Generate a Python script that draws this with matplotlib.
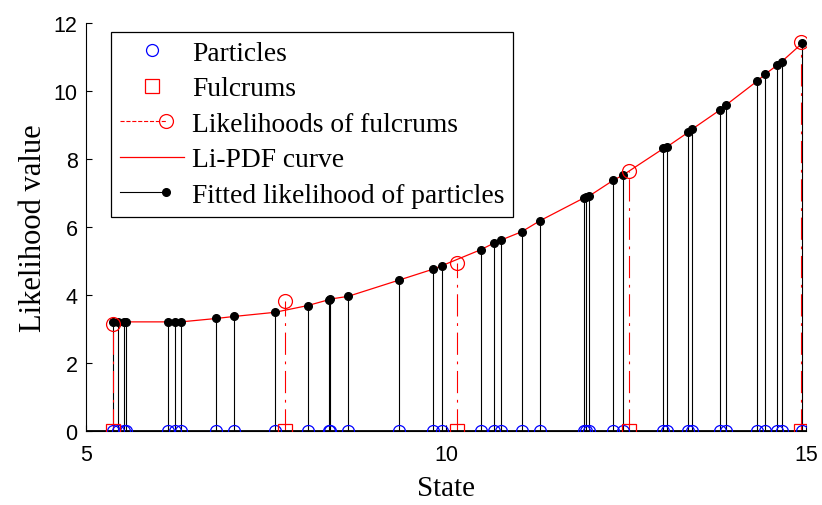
import matplotlib
matplotlib.use("Agg")
import matplotlib.pyplot as plt
from matplotlib.lines import Line2D
from matplotlib.legend_handler import HandlerBase

# particle states and the likelihood fitted on the Li-PDF curve
particle_state = [5.37, 5.44, 5.53, 5.56, 6.14, 6.23, 6.32, 6.81, 7.06, 7.62,
                  8.08, 8.37, 8.39, 8.64, 9.35, 9.82, 9.94, 10.48, 10.66, 10.77,
                  11.05, 11.31, 11.92, 11.94, 11.98, 12.32, 12.46, 13.02, 13.07,
                  13.36, 13.42, 13.81, 13.89, 14.32, 14.43, 14.60, 14.66, 14.95]
particle_lik = [3.21, 3.21, 3.21, 3.21, 3.21, 3.21, 3.21, 3.31, 3.37, 3.49,
                3.69, 3.86, 3.88, 3.96, 4.44, 4.76, 4.86, 5.33, 5.52, 5.62,
                5.86, 6.19, 6.86, 6.88, 6.90, 7.37, 7.53, 8.31, 8.36,
                8.78, 8.88, 9.45, 9.59, 10.29, 10.49, 10.76, 10.86, 11.41]

# fulcrums and their likelihoods
fulcrum_state = [5.375, 7.76, 10.15, 12.54, 14.93]
fulcrum_lik = [3.15, 3.82, 4.94, 7.64, 11.45]

SERIF = "Liberation Serif"
SANS = "Liberation Sans"
DASHDOT = (0, (20, 6, 2.5, 6))


class StemHandler(HandlerBase):
    """Legend entry that looks like a MATLAB stem: line with marker near the right."""

    def __init__(self, frac=0.72):
        super().__init__()
        self.frac = frac

    def create_artists(self, legend, orig_handle, xdescent, ydescent,
                       width, height, fontsize, trans):
        y = height / 2 - ydescent
        xm = -xdescent + width * self.frac
        line = Line2D([-xdescent, xm], [y, y], color=orig_handle.get_color(),
                      linestyle=orig_handle.get_linestyle(),
                      linewidth=orig_handle.get_linewidth())
        mark = Line2D([xm], [y], linestyle="none", marker=orig_handle.get_marker(),
                      markersize=orig_handle.get_markersize(),
                      markerfacecolor=orig_handle.get_markerfacecolor(),
                      markeredgecolor=orig_handle.get_markeredgecolor(),
                      markeredgewidth=orig_handle.get_markeredgewidth())
        line.set_transform(trans)
        mark.set_transform(trans)
        return [line, mark]


fig = plt.figure(figsize=(8.22, 5.06), dpi=100)
ax = fig.add_axes([0.1046, 0.1462, 0.876, 0.8064])

# stems of the fitted particle likelihoods
ax.vlines(particle_state, 0, particle_lik, colors="black", linewidth=0.8, zorder=2)
# stems of the fulcrum likelihoods
ax.vlines(fulcrum_state, 0, fulcrum_lik, colors="red", linestyles=DASHDOT,
          linewidth=0.8, zorder=2.5)

# baseline of the stems
ax.axhline(0, color="black", linewidth=1.3, zorder=3)

# Li-PDF curve through the fitted likelihoods
ax.plot(particle_state, particle_lik, color="red", linewidth=0.9, zorder=3)

ax.plot(particle_state, particle_lik, linestyle="none", marker="o", markersize=5.5,
        markerfacecolor="black", markeredgecolor="black", zorder=4)
ax.plot(fulcrum_state, fulcrum_lik, linestyle="none", marker="o", markersize=10,
        markerfacecolor="none", markeredgecolor="red", markeredgewidth=0.9, zorder=4)

ax.plot(particle_state, [0] * len(particle_state), linestyle="none", marker="o",
        markersize=8.6, markerfacecolor="none", markeredgecolor="blue",
        markeredgewidth=0.9, zorder=5)
ax.plot(fulcrum_state, [0] * len(fulcrum_state), linestyle="none", marker="s",
        markersize=10.5, markerfacecolor="none", markeredgecolor="red",
        markeredgewidth=0.9, zorder=5)

ax.set_xlim(5, 15)
ax.set_ylim(0, 12)
ax.set_xticks([5, 10, 15])
ax.set_yticks([0, 2, 4, 6, 8, 10, 12])
ax.spines["top"].set_visible(False)
ax.spines["right"].set_visible(False)
for s in ("left", "bottom"):
    ax.spines[s].set_linewidth(0.8)
ax.tick_params(direction="in", length=4, width=0.8, labelsize=15.5)
ax.tick_params(axis="y", pad=6)
ax.tick_params(axis="x", pad=9.5)
for lbl in ax.get_xticklabels() + ax.get_yticklabels():
    lbl.set_fontfamily(SANS)

ax.set_xlabel("State", fontfamily=SERIF, fontsize=21, labelpad=7)
ax.set_ylabel("Likelihood value", fontfamily=SERIF, fontsize=22, labelpad=4)

# legend entries
h_part = Line2D([], [], linestyle="none", marker="o", markersize=8.6,
                markerfacecolor="none", markeredgecolor="blue", markeredgewidth=0.9)
h_fulc = Line2D([], [], linestyle="none", marker="s", markersize=10.5,
                markerfacecolor="none", markeredgecolor="red", markeredgewidth=0.9)
h_flik = Line2D([], [], color="red", linestyle=DASHDOT, linewidth=0.8,
                marker="o", markersize=10, markerfacecolor="none",
                markeredgecolor="red", markeredgewidth=0.9)
h_curve = Line2D([], [], color="red", linewidth=0.9)
h_fit = Line2D([], [], color="black", linewidth=0.8, marker="o", markersize=5.5,
               markerfacecolor="black", markeredgecolor="black")

leg = ax.legend(
    [h_part, h_fulc, h_flik, h_curve, h_fit],
    ["Particles", "Fulcrums", "Likelihoods of fulcrums", "Li-PDF curve",
     "Fitted likelihood of particles"],
    handler_map={h_flik: StemHandler(), h_fit: StemHandler()},
    loc="upper left", bbox_to_anchor=(0.0347, 0.978),
    prop={"family": SERIF, "size": 19.8},
    frameon=True, fancybox=False, edgecolor="black", framealpha=1,
    handlelength=2.33, handletextpad=0.3, labelspacing=0.37,
    borderpad=0.32, borderaxespad=0,
)
leg.get_frame().set_linewidth(0.9)

fig.savefig("out.png", dpi=100)
